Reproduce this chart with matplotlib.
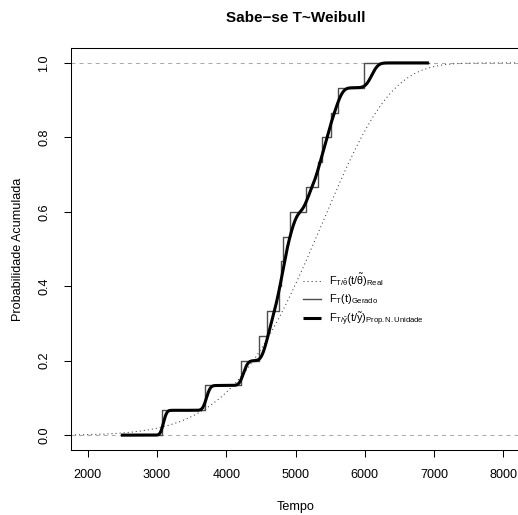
import numpy as np
import matplotlib
matplotlib.use("Agg")
import matplotlib.pyplot as plt
from math import erf, sqrt

plt.rcParams["font.family"] = ["Liberation Sans", "DejaVu Sans"]
plt.rcParams["mathtext.fontset"] = "custom"
plt.rcParams["mathtext.rm"] = "Liberation Sans"
plt.rcParams["mathtext.it"] = "Liberation Sans:italic"
plt.rcParams["lines.scale_dashes"] = False

# observed failure times (simulated sample, n = 15)
sample_times = [3068, 3688, 4218, 4472, 4587, 4760, 4794, 4818, 4925,
                5155, 5323, 5386, 5515, 5611, 5987]
# time window over which the curves were evaluated
grid_start, grid_end = 2480, 6925
# Weibull parameters of the true distribution
weibull_shape, weibull_scale = 6.5, 5530
# knots of the smoothed estimate (time where each 1/15 rise is half done)
smooth_knots = [3095, 3715, 4250, 4559, 4648, 4745, 4812, 4868, 4968,
                5170, 5310, 5404, 5503, 5620, 6100]
smooth_bw = 0.012  # kernel width on the log-time scale

x_ticks = [2000, 3000, 4000, 5000, 6000, 7000, 8000]
y_ticks = [0.0, 0.2, 0.4, 0.6, 0.8, 1.0]

W, H = 518, 515
fig = plt.figure(figsize=(W / 100, H / 100), dpi=100)
ax = fig.add_axes([71 / W, (H - 450) / H, (520 - 71) / W, (450 - 48) / H])
ax.set_xlim(1760, 8240)
ax.set_ylim(-0.04, 1.04)

# reference levels 0 and 1
for lvl in (0, 1):
    ax.axhline(lvl, color="#ababab", lw=0.75, linestyle=(0, (2.9, 2.9)), zorder=1)

# true Weibull CDF
tt = np.linspace(1760, 8240, 800)
F_real = 1 - np.exp(-(tt / weibull_scale) ** weibull_shape)
ax.plot(tt, F_real, color="#333333", lw=0.75, linestyle=(0, (0.72, 2.2)),
        label=r"$\mathregular{F_{T/\tilde{\theta}}(t/\tilde{\theta})_{Real}}$", zorder=2)

# empirical CDF of the sample
xs = np.sort(np.array(sample_times, float))
n = len(xs)
step_x = np.concatenate([[grid_start], xs, [grid_end]])
step_y = np.concatenate([[0], np.arange(1, n + 1) / n, [1]])
ax.step(step_x, step_y, where="post", color="#4d4d4d", lw=1.0,
        label=r"$\mathregular{F_T(t)_{Gerado}}$", zorder=3)

# smoothed estimate
tg = np.linspace(grid_start, grid_end, 1500)
phi = np.vectorize(lambda z: 0.5 * (1 + erf(z / sqrt(2))))
F_sm = np.zeros_like(tg)
for k in smooth_knots:
    F_sm += phi((np.log(tg) - np.log(k)) / smooth_bw)
F_sm /= len(smooth_knots)
ax.plot(tg, F_sm, color="black", lw=2.2, solid_capstyle="butt",
        label=r"$\mathregular{F_{T/\tilde{y}}(t/\tilde{y})_{Prop.N.Unidade}}$", zorder=4)

ax.set_xticks(x_ticks)
ax.set_xticklabels([str(v) for v in x_ticks])
ax.set_yticks(y_ticks)
ax.set_yticklabels([f"{v:.1f}" for v in y_ticks], rotation=90, va="center")
ax.tick_params(direction="out", length=5, width=0.75, labelsize=9.1, color="black")
ax.tick_params(axis="x", pad=9)
ax.tick_params(axis="y", pad=10)
for s in ax.spines.values():
    s.set_linewidth(0.75)

ax.set_xlabel("Tempo", fontsize=9.1, labelpad=14)
ax.set_ylabel("Probabilidade Acumulada", fontsize=9.1, labelpad=10)
fig.text((71 + 520) / 2 / W, 1 - 18 / H, "Sabe\u2212se T~Weibull", ha="center", va="center",
         fontsize=11, fontweight="bold")

leg = ax.legend(loc="upper left", bbox_to_anchor=(298 / W, 1 - 266 / H),
                bbox_transform=fig.transFigure, frameon=False, fontsize=7.8,
                handlelength=1.6, handletextpad=0.8, labelspacing=0.35, borderpad=0)

fig.savefig("out.png", dpi=100)
